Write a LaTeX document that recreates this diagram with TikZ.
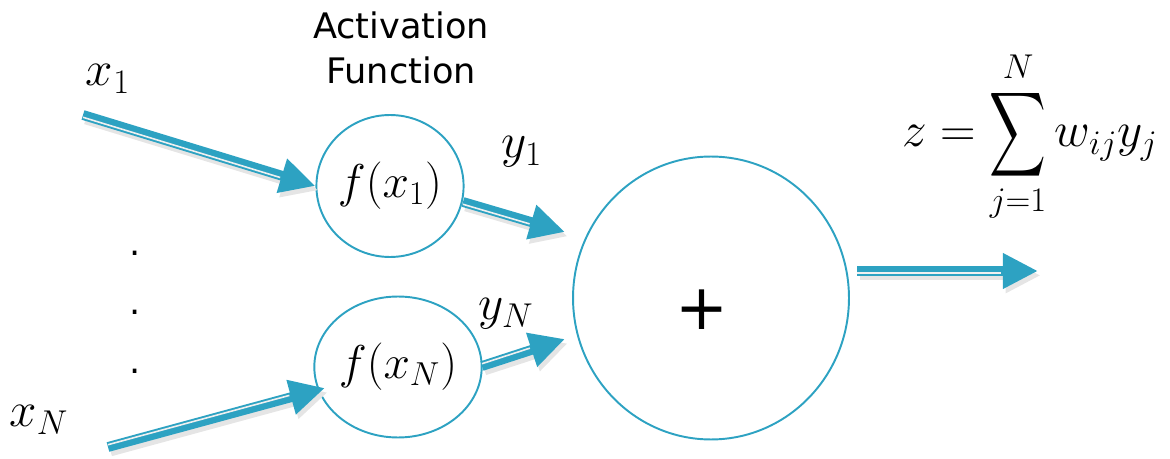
\RequirePackage{fix-cm}
\documentclass[tikz,border=0pt]{standalone}
\usepackage{fontspec}
\usepackage{amsmath}
\usepackage{graphicx}
\usetikzlibrary{arrows.meta,shapes.geometric}
\newfontfamily\sansA{DejaVu Sans}
\definecolor{teal2}{RGB}{45,162,194}
\newcommand\fatarr[3]{%
  \draw[arrshadow] ([shift={(1.5pt,-2.5pt)}]#1) -- ([shift={(1.5pt,-2.5pt)}]#2);
  \draw[arrmain] (#1) -- (#2);
  \draw[arrstripe, transform canvas={shift={#3}}] (#1) -- (#2);
}
\begin{document}
\begin{tikzpicture}[x=0.02cm,y=-0.02cm,
  mathlab/.style={inner sep=0pt, font=\fontsize{28}{32}\selectfont},
  unitlab/.style={inner sep=0pt, font=\fontsize{27}{32}\selectfont},
  sanslab/.style={inner sep=0pt, font=\sansA\fontsize{20}{26}\selectfont, align=center},
  unit/.style={draw=teal2, line width=1.1pt, ellipse, inner sep=0pt},
  arrmain/.style={draw=teal2, line width=5.6pt, -{Triangle[length=20pt,width=19pt]}},
  arrshadow/.style={draw=black!10, line width=5.6pt, -{Triangle[length=20pt,width=19pt]}},
  arrstripe/.style={draw=gray!12, line width=0.9pt, shorten >=21pt}]
\useasboundingbox (0,0) rectangle (1170,459);

% units
\node[unit, minimum width=2.62cm, minimum height=2.84cm, unitlab] (f1) at (390,186) {$f(x_1)$};
\node[unit, minimum width=2.6cm, minimum height=2.82cm, unitlab] (fN) at (398,367) {$f(x_N)$};
\node[unit, minimum width=5.52cm, minimum height=5.66cm] (sum) at (711,298) {};
\node[inner sep=0pt, font=\sansA\fontsize{36}{40}\selectfont] (plus) at (702,310) {+};

% labels
\node[sanslab] (act) at (401,48) {Activation\\Function};
\node[mathlab] (lx1) at (108,79) {$x_1$};
\node[mathlab] (lxN) at (39,420) {$x_N$};
\node[mathlab] (ly1) at (522,152) {$y_1$};
\node[mathlab] (lyN) at (506,314) {$y_N$};
\node[sanslab] (d1) at (135,253) {.};
\node[sanslab] (d2) at (135,312) {.};
\node[sanslab] (d3) at (135,371) {.};
\node[mathlab, anchor=base west] (eq) at (902,147)
  {$\displaystyle z=\mathop{\vcenter{\hbox{\scalebox{0.9}[1.35]{$\displaystyle\sum$}}}}\limits_{j=1}^{N} w_{ij}y_j$};

% arrow end points
\coordinate (x1s) at (83,115);
\coordinate (xNs) at (108,447);
\coordinate (xNe) at (325,388);
\coordinate (y1s) at (463,202);
\coordinate (y1e) at (565,232);
\coordinate (yNs) at (482,366);
\coordinate (yNe) at (565,339);
\coordinate (zs) at (857,271);
\coordinate (ze) at (1038,271);

\fatarr{x1s}{f1.west}{(0pt,-1.3pt)}
\fatarr{xNs}{xNe}{(0pt,1.3pt)}
\fatarr{y1s}{y1e}{(0pt,-1.3pt)}
\fatarr{yNs}{yNe}{(0pt,1.3pt)}
\fatarr{zs}{ze}{(0pt,-1.3pt)}
\end{tikzpicture}
\end{document}
